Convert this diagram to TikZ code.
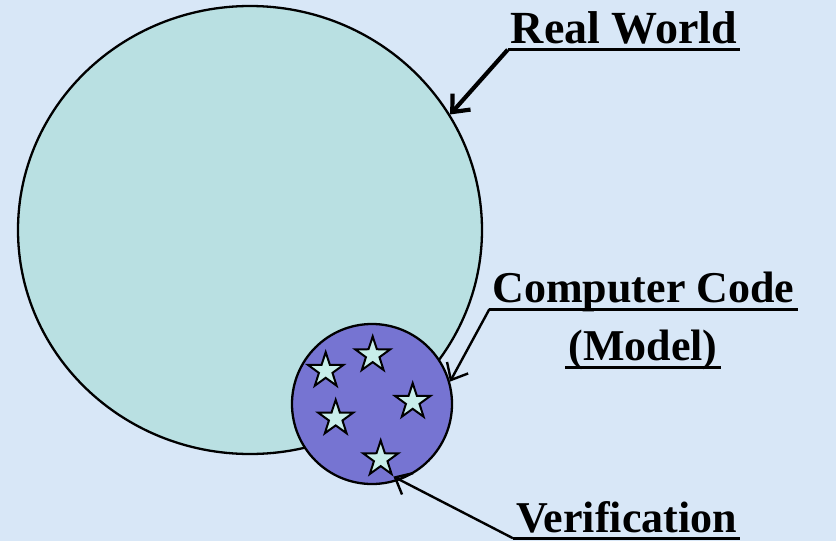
\documentclass[tikz,border=0pt]{standalone}
\usepackage{fontspec}
\setmainfont{Liberation Serif}
\usetikzlibrary{arrows.meta,shapes.geometric}

\definecolor{paper}{RGB}{216,231,247}
\definecolor{worldfill}{RGB}{185,224,226}
\definecolor{codefill}{RGB}{118,116,210}
\definecolor{starfill}{RGB}{200,238,234}

\begin{document}
\begin{tikzpicture}[
    x=1pt, y=-1pt,
    caption/.style={font=\bfseries\fontsize{44}{48}\selectfont, inner xsep=3pt, inner ysep=0pt, text depth=7pt, anchor=base},
    underline/.style={line width=3pt},
    region/.style={draw, line width=2.3pt, inner sep=0pt},
    pin/.style={draw, line width=2pt, star, star points=5, star point ratio=2.6, minimum size=37pt, inner sep=0pt, fill=starfill},
    arrow/.style={-{Straight Barb[length=14pt,width=24pt]}, line width=2.4pt}
]
% page and background
\fill[paper] (0,0) rectangle (836,541);
\useasboundingbox (0,0) rectangle (836,541);

% the two regions
\node[region, ellipse, minimum width=464pt, minimum height=448pt, fill=worldfill] (world) at (250,230) {};
\node[region, circle, minimum size=160pt, fill=codefill] (code) at (372,404) {};

% stars inside the model
\foreach \name/\pos in {s1/{(372.7,355)}, s2/{(325.7,370.7)}, s3/{(412.7,401.7)}, s4/{(335.7,418.3)}, s5/{(380.7,459)}}
    \node[pin] (\name) at \pos {};

% captions
\node[caption, font=\bfseries\fontsize{46}{50}\selectfont, text depth=6.5pt] (real) at (624,43) {Real World};
\node[caption] (comp) at (643.5,302) {Computer Code};
\node[caption] (model) at (643,360) {(Model)};
\node[caption, text depth=6pt] (verif) at (626.5,532) {Verification};

\foreach \n in {real,comp,model,verif}
    \draw[underline] (\n.south west) -- (\n.south east);

% pointers
\draw[arrow, line width=4.2pt] (real.south west) -- (world.30);
\draw[arrow] (comp.south west) -- (code.16);
\draw[arrow] (verif.south west) -- (s5.outer point 4);
\end{tikzpicture}
\end{document}
